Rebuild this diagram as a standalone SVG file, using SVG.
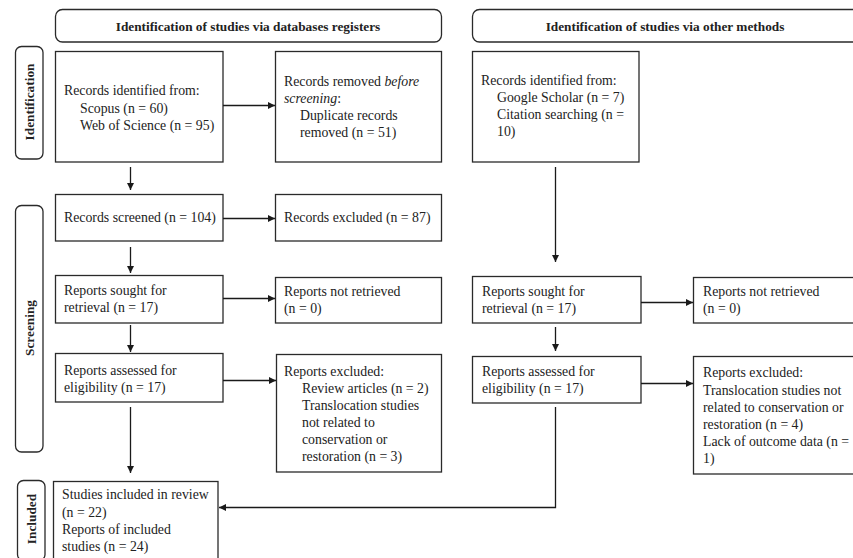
<svg xmlns="http://www.w3.org/2000/svg" width="853" height="558" viewBox="0 0 853 558">
<defs>
<marker id="ah" viewBox="0 0 10 10" refX="10" refY="5" markerWidth="7" markerHeight="7" markerUnits="userSpaceOnUse" orient="auto">
<path d="M0,0 L10,5 L0,10 z" fill="#1a1a1a"/>
</marker>
</defs>
<style>
rect{fill:#fff;stroke:#2a2a2a;stroke-width:1.3}
text{font-family:"Liberation Serif","Times New Roman",serif;font-size:13.8px;fill:#222}
.h{font-weight:bold;font-size:13.3px;text-anchor:middle}
.s{font-weight:bold;font-size:13.3px;text-anchor:middle}
.c line,.c path{stroke:#1a1a1a;stroke-width:1.3;fill:none;marker-end:url(#ah)}
</style>
<g id="header-db"><rect x="55.500" y="9.500" width="386" height="32.500" rx="7"/><text class="h" x="248" y="31">Identification of studies via databases registers</text></g>
<g id="header-other"><rect x="472.500" y="9.500" width="392" height="32.500" rx="7"/><text class="h" x="665" y="31">Identification of studies via other methods</text></g>
<g id="side-identification"><rect x="15.500" y="46.500" width="27.500" height="112.500" rx="6"/><text class="s" transform="translate(33.500,102) rotate(-90)">Identification</text></g>
<g id="side-screening"><rect x="15.500" y="205.500" width="27.500" height="246.500" rx="6"/><text class="s" transform="translate(33.500,328) rotate(-90)">Screening</text></g>
<g id="side-included"><rect x="17.500" y="480.500" width="27.500" height="80" rx="6"/><text class="s" transform="translate(35.500,519) rotate(-90)">Included</text></g>

<g id="n-identified"><rect x="55.500" y="51.500" width="167.500" height="110.500"/>
<text x="64" y="95">Records identified from:</text><text x="80" y="112.500">Scopus (n = 60)</text><text x="80" y="130">Web of Science (n = 95)</text></g>
<g id="n-removed"><rect x="275.500" y="51.500" width="166" height="110.500"/>
<text x="284" y="86">Records removed <tspan font-style="italic">before</tspan></text><text x="284" y="103" font-style="italic">screening<tspan font-style="normal">:</tspan></text><text x="300" y="120">Duplicate records</text><text x="300" y="137">removed  (n = 51)</text></g>
<g id="n-other-identified"><rect x="472.500" y="51.500" width="166.500" height="110.500"/>
<text x="481" y="85">Records identified from:</text><text x="497" y="102">Google Scholar (n = 7)</text><text x="497" y="119">Citation searching (n =</text><text x="497" y="136">10)</text></g>

<g id="n-screened"><rect x="55.500" y="194.500" width="167.500" height="46.500"/><text x="64" y="221.500">Records screened (n = 104)</text></g>
<g id="n-excluded"><rect x="275.500" y="194.500" width="166" height="46.500"/><text x="284" y="221.500">Records excluded (n = 87)</text></g>

<g id="n-sought"><rect x="55.500" y="275.500" width="167.500" height="47.500"/><text x="64" y="295">Reports sought for</text><text x="64" y="312">retrieval (n = 17)</text></g>
<g id="n-notretrieved"><rect x="275.500" y="277.500" width="166" height="45.500"/><text x="284" y="296">Reports not retrieved</text><text x="284" y="313">(n = 0)</text></g>
<g id="n-other-sought"><rect x="472.500" y="276.500" width="168.500" height="46.500"/><text x="482" y="296">Reports sought for</text><text x="482" y="313">retrieval (n = 17)</text></g>
<g id="n-other-notretrieved"><rect x="693.500" y="277.500" width="170" height="45.500"/><text x="703" y="296">Reports not retrieved</text><text x="703" y="313">(n = 0)</text></g>

<g id="n-assessed"><rect x="55.500" y="353.500" width="167.500" height="48.500"/><text x="64" y="375">Reports assessed for</text><text x="64" y="392">eligibility (n = 17)</text></g>
<g id="n-reports-excluded"><rect x="276.500" y="354.500" width="165" height="117.500"/>
<text x="284" y="376">Reports excluded:</text><text x="302" y="393">Review articles (n = 2)</text><text x="302" y="410">Translocation studies</text><text x="302" y="427">not related to</text><text x="302" y="444">conservation or</text><text x="302" y="461">restoration (n = 3)</text></g>
<g id="n-other-assessed"><rect x="472.500" y="356.500" width="168.500" height="46.500"/><text x="482" y="376">Reports assessed for</text><text x="482" y="393">eligibility (n = 17)</text></g>
<g id="n-other-reports-excluded"><rect x="693.500" y="356.500" width="170" height="117.500"/>
<text x="703" y="377">Reports excluded:</text><text x="703" y="395">Translocation studies not</text><text x="703" y="412">related to conservation or</text><text x="703" y="429">restoration (n = 4)</text><text x="703" y="446">Lack of outcome data (n =</text><text x="703" y="463">1)</text></g>

<g id="n-included"><rect x="53.500" y="481.500" width="164.500" height="85"/>
<text x="62" y="499">Studies included in review</text><text x="62" y="516.500">(n = 22)</text><text x="62" y="534">Reports of included</text><text x="62" y="551">studies (n = 24)</text></g>

<g id="connectors" class="c">
<line x1="223" y1="105.500" x2="275" y2="105.500"/>
<line x1="130.500" y1="167" x2="130.500" y2="190"/>
<line x1="223" y1="218.500" x2="275" y2="218.500"/>
<line x1="130.500" y1="247" x2="130.500" y2="273"/>
<line x1="223" y1="298.500" x2="275" y2="298.500"/>
<line x1="130.500" y1="325" x2="130.500" y2="352"/>
<line x1="223" y1="380.500" x2="276" y2="380.500"/>
<line x1="130.500" y1="407" x2="130.500" y2="473"/>
<line x1="555.500" y1="167" x2="555.500" y2="262"/>
<line x1="641" y1="302.500" x2="693" y2="302.500"/>
<line x1="555.500" y1="327" x2="555.500" y2="351"/>
<line x1="641" y1="383.500" x2="693" y2="383.500"/>
<path d="M555.500,407 V507.500 H219"/>
</g>
</svg>
